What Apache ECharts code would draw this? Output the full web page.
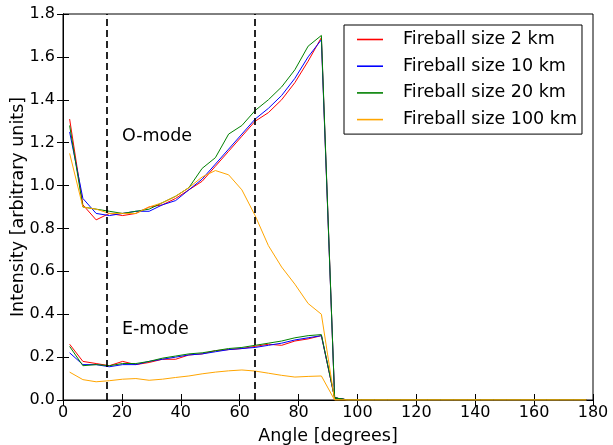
<!DOCTYPE html>
<html><head><meta charset="utf-8">
<script src="https://cdn.jsdelivr.net/npm/echarts@6/dist/echarts.min.js"></script>
<style>html,body{margin:0;padding:0;background:#fff;overflow:hidden}#c{width:613px;height:445px}</style>
</head><body><div id="c"></div>
<script>
const angles = [2.25,6.75,11.25,15.75,20.25,24.75,29.25,33.75,38.25,42.75,47.25,51.75,56.25,60.75,65.25,69.75,74.25,78.75,83.25,87.75,92.25,96.75,101.25,105.75,110.25,114.75,119.25,123.75,128.25,132.75,137.25,141.75,146.25,150.75,155.25,159.75,164.25,168.75,173.25,177.75];
const tail = [0,0,0,0,0,0,0,0,0,0,0,0,0,0,0,0,0,0,0];
const oRed    = [1.31,0.91,0.84,0.87,0.86,0.87,0.90,0.91,0.94,0.98,1.02,1.09,1.16,1.23,1.30,1.34,1.40,1.48,1.58,1.69,0.01];
const oBlue   = [1.25,0.94,0.87,0.86,0.87,0.88,0.88,0.91,0.93,0.98,1.03,1.10,1.17,1.24,1.31,1.36,1.42,1.50,1.60,1.68,0.01];
const oGreen  = [1.28,0.90,0.89,0.88,0.87,0.88,0.89,0.92,0.95,0.99,1.08,1.13,1.24,1.28,1.35,1.40,1.46,1.54,1.65,1.70,0.01];
const oOrange = [1.15,0.90,0.89,0.87,0.87,0.87,0.90,0.92,0.95,0.99,1.04,1.07,1.05,0.98,0.86,0.72,0.62,0.54,0.45,0.40,0.00];
const eRed    = [0.26,0.18,0.17,0.16,0.18,0.165,0.175,0.19,0.19,0.21,0.215,0.23,0.235,0.24,0.25,0.26,0.255,0.275,0.285,0.30,0.01];
const eBlue   = [0.22,0.165,0.165,0.155,0.165,0.165,0.18,0.19,0.20,0.21,0.215,0.225,0.235,0.24,0.245,0.255,0.265,0.28,0.29,0.30,0.01];
const eGreen  = [0.25,0.16,0.165,0.16,0.17,0.17,0.18,0.195,0.205,0.215,0.22,0.23,0.24,0.245,0.255,0.265,0.275,0.29,0.30,0.305,0.01];
const eOrange = [0.13,0.095,0.085,0.09,0.097,0.10,0.092,0.097,0.105,0.112,0.122,0.13,0.136,0.14,0.135,0.125,0.115,0.107,0.11,0.112,0.0];
const names = ['Fireball size 2 km','Fireball size 10 km','Fireball size 20 km','Fireball size 100 km'];
const colors = ['#ff0000','#0000ff','#008000','#ffa500'];
const vLines = [15, 65];
const annotations = [['O-mode', 20, 1.227], ['E-mode', 20, 0.331]];

const font = 'DejaVu Sans';
function pts(arr){ const full = arr.concat(tail); return angles.map((a,i)=>[a, full[i]]); }
const oSets = [oRed,oBlue,oGreen,oOrange];
const eSets = [eRed,eBlue,eGreen,eOrange];
const series = [];
for (let i=0;i<4;i++){
  series.push({name:names[i], type:'line', data:pts(oSets[i]), symbol:'none', lineStyle:{width:1, color:colors[i]}, itemStyle:{color:colors[i]}, z:3, animation:false});
  series.push({name:names[i], type:'line', data:pts(eSets[i]), symbol:'none', lineStyle:{width:1, color:colors[i]}, itemStyle:{color:colors[i]}, z:3, animation:false});
}
series.push({type:'line', data:[], markLine:{silent:true, symbol:'none', label:{show:false}, lineStyle:{color:'#000', type:[7,4], width:1.7}, data: vLines.map(v=>({xAxis:v}))}, animation:false});
series.push({type:'scatter', data:annotations.map(a=>[a[1],a[2],a[0]]), symbolSize:0, silent:true, animation:false,
  itemStyle:{opacity:1},
  label:{show:true, opacity:1, position:'right', distance:0, formatter:p=>p.data[2], color:'#000', fontFamily:font, fontSize:17.5}});

const tickStyle = {inside:true, length:6, lineStyle:{color:'#000'}};
const chart = echarts.init(document.getElementById('c'), null, {renderer:'canvas'});
chart.setOption({
  backgroundColor:'#fff',
  animation:false,
  grid:{left:63, right:20, top:14, bottom:45, show:true, borderColor:'#000', borderWidth:1, containLabel:false, outerBoundsMode:'none'},
  legend:{data:names.map((n,i)=>({name:n, itemStyle:{color:colors[i]}, lineStyle:{color:colors[i]}})), orient:'vertical', left:344, top:25, itemWidth:26, itemHeight:17, itemGap:8.7,
    padding:[5.5,5,5.5,13], backgroundColor:'#fff', borderColor:'#000', borderWidth:1,
    textStyle:{fontFamily:font, fontSize:17.5, color:'#000', padding:[0,0,0,15]}, icon:'path://M0,7.7 L26,7.7 L26,9.3 L0,9.3 Z'},
  xAxis:[
    {type:'value', min:0, max:180, interval:20, name:'Angle [degrees]', nameLocation:'middle', nameGap:27, nameMoveOverlap:false,
     nameTextStyle:{fontFamily:font, fontSize:17.5, color:'#000'},
     axisLine:{show:true, onZero:false, lineStyle:{color:'#000'}}, axisTick:tickStyle, splitLine:{show:false},
     axisLabel:{fontFamily:font, fontSize:16, color:'#000', margin:5}},
    {type:'value', min:0, max:180, interval:20, position:'top', axisLine:{show:true, lineStyle:{color:'#000'}}, axisTick:tickStyle, axisLabel:{show:false}, splitLine:{show:false}}
  ],
  yAxis:[
    {type:'value', min:0, max:1.8, interval:0.2, name:'Intensity [arbitrary units]', nameLocation:'middle', nameGap:36, nameMoveOverlap:false,
     nameTextStyle:{fontFamily:font, fontSize:17.5, color:'#000'},
     axisLine:{show:true, onZero:false, lineStyle:{color:'#000'}}, axisTick:tickStyle, splitLine:{show:false},
     axisLabel:{fontFamily:font, fontSize:16, color:'#000', margin:8, formatter:v=>v.toFixed(1)}},
    {type:'value', min:0, max:1.8, interval:0.2, position:'right', axisLine:{show:true, lineStyle:{color:'#000'}}, axisTick:tickStyle, axisLabel:{show:false}, splitLine:{show:false}}
  ],
  series: series
});
</script></body></html>
